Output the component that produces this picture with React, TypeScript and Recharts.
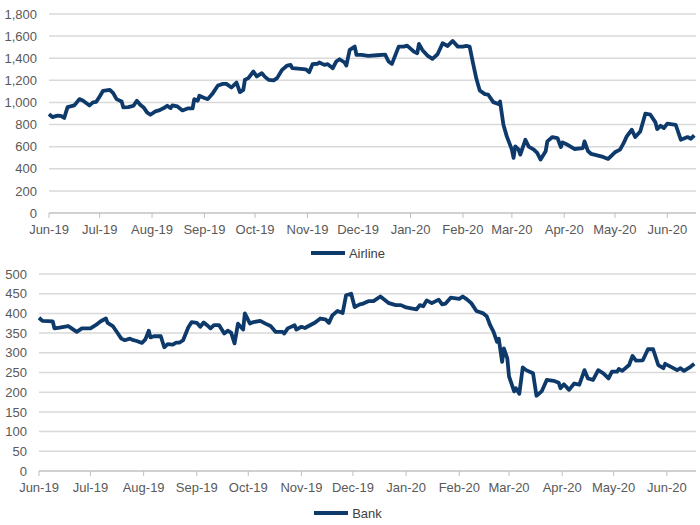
import { LineChart, Line, XAxis, YAxis, CartesianGrid, Legend } from "recharts";

// x positions are days counted from 1 Jun 2019
const monthTicks = [0, 30, 61, 92, 122, 153, 183, 214, 245, 274, 305, 335, 366];
const monthLabels = ["Jun-19", "Jul-19", "Aug-19", "Sep-19", "Oct-19", "Nov-19", "Dec-19", "Jan-20", "Feb-20", "Mar-20", "Apr-20", "May-20", "Jun-20"];

const airlineDay = [
  0, 2, 5, 7, 9, 11, 15, 18, 20, 24, 26, 28, 30, 32, 36, 38, 40, 43, 44, 47, 50, 52, 54, 56, 58, 60,
  63, 65, 68, 70, 72, 73, 76, 79, 82, 85, 86, 88, 89, 92, 94, 97, 100, 103, 105, 108, 111, 113, 115,
  116, 118, 121, 123, 126, 128, 130, 133, 135, 138, 141, 143, 144, 149, 152, 154, 156, 159, 160, 163,
  165, 168, 170, 172, 175, 176, 178, 181, 182, 185, 189, 194, 199, 201, 203, 207, 210, 212, 216, 218,
  219, 221, 224, 227, 230, 233, 236, 239, 242, 245, 247, 249, 251, 253, 254, 255, 258, 260, 263, 266,
  267, 269, 271, 274, 275, 276, 278, 279, 282, 284, 287, 289, 291, 294, 295, 298, 301, 303, 304, 307,
  311, 316, 317, 319, 321, 325, 328, 331, 335, 338, 340, 342, 345, 347, 350, 353, 356, 359, 360, 362,
  364, 366, 371, 372, 374, 378, 380, 382,
];
const airline = [
  895, 868, 880, 878, 860, 958, 973, 1030, 1018, 973, 1000, 1006, 1054, 1105, 1114, 1084, 1030, 1009, 955, 958, 970, 1015, 979, 955, 910, 889,
  919, 928, 949, 970, 949, 973, 964, 928, 946, 946, 1030, 1015, 1060, 1040, 1030, 1084, 1153, 1168, 1168, 1135, 1180, 1093, 1114,
  1206, 1220, 1280, 1235, 1265, 1229, 1205, 1200, 1220, 1295, 1334, 1340, 1310, 1304, 1300, 1274, 1346, 1350, 1361, 1340,
  1346, 1310, 1370, 1391, 1361, 1334, 1475, 1505, 1430, 1430, 1421, 1427, 1433, 1370, 1349, 1505, 1505, 1514, 1460, 1445,
  1530, 1475, 1424, 1394, 1436, 1535, 1511, 1556, 1505, 1505, 1511, 1505, 1355, 1214, 1160, 1108, 1075, 1070, 1003, 985,
  1009, 798, 693, 573, 498, 603, 573, 528, 662, 600, 573, 543, 483, 558, 648, 687, 678, 597, 639, 617,
  579, 587, 648, 561, 534, 519, 507, 489, 549, 573, 627, 693, 753, 687, 738, 898, 889, 820, 759, 789,
  768, 808, 798, 753, 663, 687, 672, 702,
];

const bankDay = [
  0, 2, 8, 9, 12, 17, 19, 22, 25, 30, 33, 36, 39, 40, 43, 46, 48, 50, 53, 55, 57, 60, 62, 64, 65, 67,
  71, 73, 75, 78, 80, 82, 84, 87, 89, 92, 94, 96, 98, 100, 102, 105, 108, 110, 112, 114, 116, 119, 120,
  123, 125, 129, 132, 135, 138, 142, 143, 145, 149, 150, 153, 155, 158, 161, 164, 167, 169, 171, 174,
  177, 179, 182, 184, 187, 189, 192, 195, 199, 204, 208, 211, 214, 220, 222, 224, 226, 229, 233, 235,
  237, 240, 245, 247, 249, 252, 255, 259, 261, 263, 265, 267, 268, 270, 271, 273, 274, 277, 278, 280,
  282, 284, 286, 288, 290, 293, 296, 300, 303, 304, 306, 309, 312, 315, 318, 320, 323, 326, 329, 332,
  334, 337, 338, 340, 344, 346, 348, 352, 355, 358, 361, 364, 365, 369, 372, 374, 376, 380, 382,
];
const bank = [
  389, 381, 380, 362, 364, 368, 362, 353, 362, 362, 370, 380, 387, 376, 368, 349, 336, 332, 336, 332, 330, 325, 334, 356, 339, 342,
  342, 314, 322, 321, 326, 326, 332, 364, 378, 376, 366, 377, 370, 362, 370, 370, 349, 356, 351, 324, 374, 359, 400,
  374, 378, 381, 374, 368, 353, 353, 349, 362, 370, 359, 366, 363, 370, 377, 387, 385, 376, 395, 406,
  401, 446, 450, 416, 423, 425, 431, 431, 443, 426, 421, 421, 415, 410, 421, 418, 433, 426, 435, 423,
  425, 440, 437, 443, 437, 426, 406, 400, 393, 370, 353, 328, 336, 277, 311, 286, 240, 202, 210, 196,
  263, 256, 252, 248, 191, 202, 231, 229, 224, 210, 220, 206, 222, 219, 256, 235, 231, 256, 248, 235,
  252, 252, 259, 254, 269, 292, 280, 281, 309, 309, 269, 261, 272, 263, 256, 261, 254, 265, 272,
];

const airlineTicks = [0, 200, 400, 600, 800, 1000, 1200, 1400, 1600, 1800];
const bankTicks = [0, 50, 100, 150, 200, 250, 300, 350, 400, 450, 500];

const airlineData = airlineDay.map((d, i) => ({ day: d, Airline: airline[i] }));
const bankData = bankDay.map((d, i) => ({ day: d, Bank: bank[i] }));

const navy = "#0e3a6b";
const tickStyle = { fill: "#595959", fontSize: 13 };

function LegendItem({ name }: { name: string }) {
  return (
    <div style={{ display: "flex", justifyContent: "center", alignItems: "center", height: 20 }}>
      <svg width={34} height={8} style={{ marginRight: 4 }}>
        <line x1={0} y1={4} x2={34} y2={4} stroke={navy} strokeWidth={4} />
      </svg>
      <span style={{ color: "#404040", fontSize: 13 }}>{name}</span>
    </div>
  );
}

function Panel({ data, dataKey, yTicks, yMax, yWidth, height, top, xHeight }: any) {
  return (
    <LineChart width={700} height={height} data={data} margin={{ top, right: 4, left: 0, bottom: 0 }}>
      <CartesianGrid vertical={false} stroke="#d9d9d9" strokeWidth={1.5} />
      <XAxis
        dataKey="day"
        type="number"
        domain={[0, 383]}
        ticks={monthTicks}
        tickFormatter={(v: number) => monthLabels[monthTicks.indexOf(v)]}
        stroke="#bfbfbf"
        tick={tickStyle}
        tickSize={5}
        tickMargin={7}
        height={xHeight}
        interval={0}
      />
      <YAxis
        domain={[0, yMax]}
        ticks={yTicks}
        tickFormatter={(v: number) => v.toLocaleString("en-US")}
        axisLine={false}
        tickLine={false}
        tickSize={0}
        tickMargin={12}
        tick={tickStyle}
        width={yWidth}
        interval={0}
      />
      <Legend verticalAlign="bottom" height={20} content={() => <LegendItem name={dataKey} />} />
      <Line
        type="linear"
        dataKey={dataKey}
        stroke={navy}
        strokeWidth={3.8}
        strokeLinejoin="round"
        dot={false}
        isAnimationActive={false}
      />
    </LineChart>
  );
}

export default function App() {
  return (
    <div style={{ position: "absolute", left: 0, top: 0, width: 700, height: 525, background: "#fff", fontFamily: "'Liberation Sans', Arial, sans-serif" }}>
      <div style={{ position: "absolute", left: 0, top: 0 }}>
        <Panel data={airlineData} dataKey="Airline" yTicks={airlineTicks} yMax={1800} yWidth={49} height={263} top={14} xHeight={30} />
      </div>
      <div style={{ position: "absolute", left: 0, top: 263 }}>
        <Panel data={bankData} dataKey="Bank" yTicks={bankTicks} yMax={500} yWidth={39} height={260} top={11} xHeight={32} />
      </div>
    </div>
  );
}
